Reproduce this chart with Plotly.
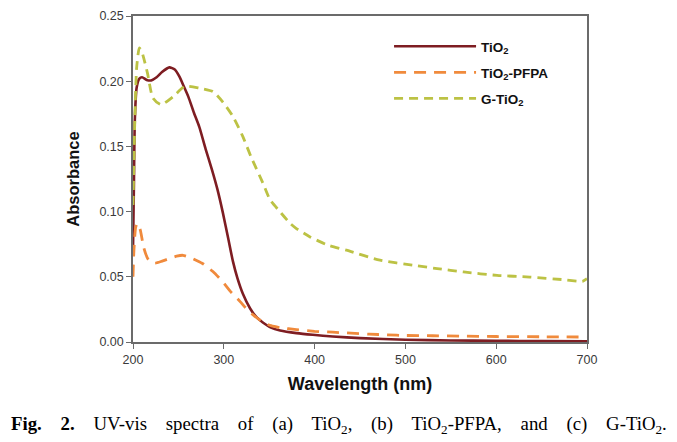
import plotly.graph_objects as go

# ---- data ----
tio2_wl = [200, 201, 202, 204, 207, 210, 215, 220, 226, 232, 240, 246, 251, 256, 261, 267,
           273, 280, 287, 293, 299, 305, 310, 315, 321, 329, 336, 343, 352, 362, 380, 398,
           420, 450, 500, 550, 600, 650, 700]
tio2_abs = [0.070, 0.120, 0.170, 0.195, 0.202, 0.203, 0.201, 0.2006, 0.203, 0.207, 0.2106, 0.209,
            0.2037, 0.196, 0.188, 0.176, 0.165, 0.148, 0.132, 0.117, 0.099, 0.079, 0.062, 0.049,
            0.037, 0.0257, 0.019, 0.015, 0.011, 0.0088, 0.0068, 0.0055, 0.0042, 0.0030, 0.0017,
            0.0012, 0.0009, 0.0007, 0.0006]

pfpa_wl = [200, 201, 203, 205, 208, 212, 217, 224, 232, 240, 248, 255, 262, 270, 277, 288, 299,
           307, 318, 325, 332, 343, 352, 362, 380, 400, 420, 440, 460, 480, 500, 530, 560, 600,
           650, 700]
pfpa_abs = [0.050, 0.070, 0.088, 0.091, 0.086, 0.072, 0.063, 0.0605, 0.062, 0.064, 0.0658, 0.0665,
            0.065, 0.0625, 0.060, 0.054, 0.046, 0.039, 0.031, 0.0255, 0.021, 0.0152, 0.0125, 0.011,
            0.0095, 0.0082, 0.0075, 0.0068, 0.0060, 0.0055, 0.0050, 0.0048, 0.0045, 0.0042, 0.0040,
            0.0038]

g_wl = [200, 202, 204, 207, 210, 216, 222, 231, 244, 257, 273, 288, 299, 310, 321, 330, 343, 351,
        362, 373, 380, 395, 415, 435, 472, 509, 535, 564, 601, 637, 674, 689, 695, 700]
g_abs = [0.105, 0.170, 0.210, 0.2255, 0.222, 0.206, 0.187, 0.182, 0.188, 0.196, 0.1947, 0.192,
         0.184, 0.173, 0.1575, 0.142, 0.122, 0.109, 0.0998, 0.091, 0.087, 0.0806, 0.0742, 0.0704,
         0.0627, 0.0588, 0.0563, 0.0537, 0.0511, 0.0498, 0.0478, 0.0467, 0.0465, 0.0486]

x_ticks = [200, 300, 400, 500, 600, 700]
y_ticks = [0.00, 0.05, 0.10, 0.15, 0.20, 0.25]
y_tick_text = ["0.00", "0.05", "0.10", "0.15", "0.20", "0.25"]

fig = go.Figure()
fig.add_trace(go.Scatter(x=tio2_wl, y=tio2_abs, mode="lines", name="TiO<sub>2</sub>", legendgroup="a",
                         line=dict(color="#7E1D22", width=2.6, shape="spline", smoothing=0.6)))
fig.add_trace(go.Scatter(x=pfpa_wl, y=pfpa_abs, mode="lines", name="TiO<sub>2</sub>-PFPA", legendgroup="b",
                         line=dict(color="#F08A3C", width=2.8, dash="12px,8px", shape="spline", smoothing=0.6)))
fig.add_trace(go.Scatter(x=g_wl, y=g_abs, mode="lines", name="G-TiO<sub>2</sub>", legendgroup="c",
                         line=dict(color="#BCC244", width=2.8, dash="9px,6px", shape="spline", smoothing=0.6)))

axis_common = dict(showgrid=False, zeroline=False, showline=True, linecolor="#6b6b6b",
                   linewidth=1.5, mirror=True, ticks="outside", ticklen=5, tickwidth=1.2,
                   tickcolor="#6b6b6b", automargin=False,
                   tickfont=dict(family="Liberation Sans, Arial", size=12.5, color="#3a3a3a"))

fig.update_xaxes(range=[200, 700], tickvals=x_ticks,
                 title=dict(text="Wavelength (nm)", standoff=12,
                            font=dict(family="Liberation Sans, Arial", size=18, color="#111", weight="bold")),
                 **axis_common)
fig.update_yaxes(range=[0, 0.25], tickvals=y_ticks, ticktext=y_tick_text,
                 title=dict(text="Absorbance", standoff=16,
                            font=dict(family="Liberation Sans, Arial", size=16.5, color="#111", weight="bold")),
                 **axis_common)

sp = "    "
caption = ("<b>Fig." + sp + "2.</b>" + sp + "UV-vis" + sp + "spectra" + sp + "of" + sp + "(a)" + sp +
           "TiO<sub>2</sub>," + sp + "(b)" + sp + "TiO<sub>2</sub>-PFPA," + sp + "and" + sp + "(c)" + sp +
           "G-TiO<sub>2</sub>.")

fig.update_layout(
    width=669, height=434,
    margin=dict(l=125, r=90, t=8, b=100),
    plot_bgcolor="white", paper_bgcolor="white",
    showlegend=True,
    legend=dict(x=0.564, y=0.954, xanchor="left", yanchor="top",
                bgcolor="rgba(0,0,0,0)", itemwidth=82, tracegroupgap=5.5,
                font=dict(family="Liberation Sans, Arial", size=13.5, color="#111", weight="bold")),
    annotations=[dict(
        text=caption,
        xref="paper", yref="paper", x=0.454, y=-0.254, xanchor="center", yanchor="middle",
        showarrow=False, font=dict(family="Liberation Serif, Times New Roman", size=18.8, color="#000"))],
)

fig.write_html("out.html")
